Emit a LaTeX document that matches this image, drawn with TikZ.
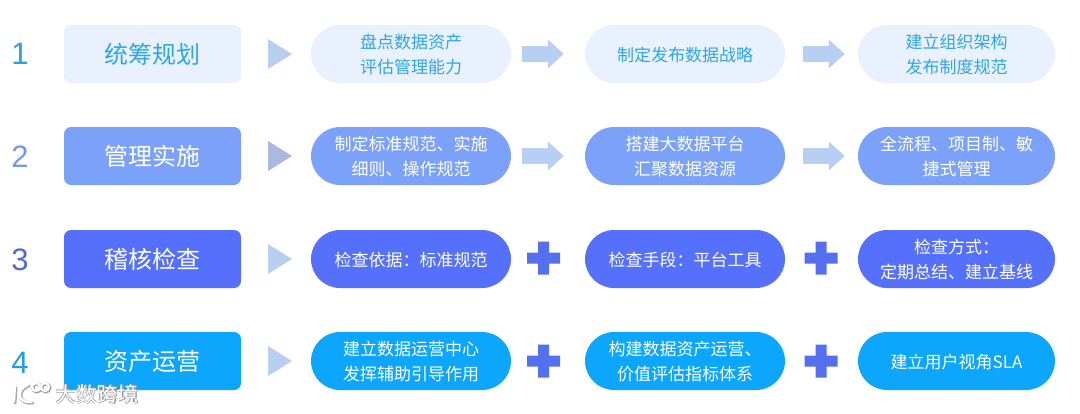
\documentclass[tikz,border=0pt]{standalone}
\usepackage{fontspec}
\setmainfont{Noto Sans CJK SC}
\newfontfamily\latinnum{Liberation Sans}
\usetikzlibrary{arrows.meta}
\definecolor{rowA}{HTML}{E8F1FD}
\definecolor{rowB}{HTML}{7BA2F8}
\definecolor{rowC}{HTML}{5570FB}
\definecolor{rowD}{HTML}{0DA6FD}
\definecolor{txtA}{HTML}{2FA6E2}
\definecolor{numA}{HTML}{2BA0DE}
\definecolor{numB}{HTML}{6F9BE6}
\definecolor{numC}{HTML}{4F68D6}
\definecolor{numD}{HTML}{1F9FE8}
\definecolor{triA}{HTML}{B9CFEF}
\definecolor{triB}{HTML}{ABB8DF}
\definecolor{arrowc}{HTML}{B6CFF2}
\definecolor{plusc}{HTML}{5570EE}
\newcommand{\ptext}[1]{\raisebox{-2pt}[\height][\depth]{\begin{tabular}{@{}c@{}}#1\end{tabular}}}
\tikzset{
  x=1pt,y=-1pt,
  titlebox/.style={draw=none,rounded corners=7pt,minimum width=177pt,minimum height=58pt,inner sep=0pt,text=white,font=\fontsize{24}{28}\selectfont},
  pill/.style={draw=none,rounded corners=29pt,minimum height=58pt,inner sep=0pt,text=white,font=\fontsize{17}{25}\selectfont},
  pillw/.style={pill,minimum width=200pt},
  pilln/.style={pill,minimum width=197pt},
  numlabel/.style={font=\latinnum\fontsize{31}{31}\selectfont,inner sep=0pt},
  blockarrow/.style={draw=arrowc,line width=16pt,-{Triangle[length=16pt,width=28pt]}},
  arrowfirst/.style={blockarrow,shorten <=11pt,shorten >=21pt},
  arrowsecond/.style={blockarrow,shorten <=18pt,shorten >=13pt},
  watermark/.style={font=\fontsize{21}{21}\selectfont,inner sep=0pt},
}
\newcommand{\tri}[2]{\fill[#2] (268,#1-15) -- (292,#1) -- (268,#1+15) -- cycle;}
\newcommand{\plusat}[2]{\fill[plusc] (#1-5.5,#2-16.5) rectangle (#1+5.5,#2+16.5) (#1-16.5,#2-5.5) rectangle (#1+16.5,#2+5.5);}
\begin{document}
\begin{tikzpicture}
\useasboundingbox (0,0) rectangle (1080,413);
\fill[white] (0,0) rectangle (1080,413);
% numbers
\node[numlabel,text=numA] (n1) at (20,54) {1};
\node[numlabel,text=numB] (n2) at (20,157) {2};
\node[numlabel,text=numC] (n3) at (20,260) {3};
\node[numlabel,text=numD] (n4) at (20,363) {4};
% titles
\node[titlebox,fill=rowA,text=txtA] (t1) at (152.5,54) {统筹规划};
\node[titlebox,fill=rowB] (t2) at (152.5,156) {管理实施};
\node[titlebox,fill=rowC] (t3) at (152.5,259) {稽核检查};
\node[titlebox,fill=rowD] (t4) at (152.5,361) {资产运营};
% row 1
\node[pillw,fill=rowA,text=txtA] (a1) at (411,54) {\ptext{盘点数据资产\\评估管理能力}};
\node[pillw,fill=rowA,text=txtA] (a2) at (685,54) {\ptext{制定发布数据战略}};
\node[pilln,fill=rowA,text=txtA] (a3) at (956.5,54) {\ptext{建立组织架构\\发布制度规范}};
% row 2
\node[pillw,fill=rowB] (b1) at (411,156) {\ptext{制定标准规范、实施\\细则、操作规范}};
\node[pillw,fill=rowB] (b2) at (685,156) {\ptext{搭建大数据平台\\汇聚数据资源}};
\node[pilln,fill=rowB] (b3) at (956.5,156) {\ptext{全流程、项目制、敏\\捷式管理}};
% row 3
\node[pillw,fill=rowC] (c1) at (411,259) {\ptext{检查依据：标准规范}};
\node[pillw,fill=rowC] (c2) at (685,259) {\ptext{检查手段：平台工具}};
\node[pilln,fill=rowC] (c3) at (956.5,259) {\ptext{检查方式：\\定期总结、建立基线}};
% row 4
\node[pillw,fill=rowD] (d1) at (411,361) {\ptext{建立数据运营中心\\发挥辅助引导作用}};
\node[pillw,fill=rowD] (d2) at (685,361) {\ptext{构建数据资产运营、\\价值评估指标体系}};
\node[pilln,fill=rowD] (d3) at (956.5,361) {\ptext{建立用户视角SLA}};
% triangles
\tri{54}{triA}
\tri{156}{triB}
\tri{259}{triA}
\tri{361}{triA}
% block arrows
\draw[arrowfirst] (a1) -- (a2);
\draw[arrowsecond] (a2) -- (a3);
\draw[arrowfirst] (b1) -- (b2);
\draw[arrowsecond] (b2) -- (b3);
% plus signs
\plusat{543.5}{258}
\plusat{821}{258}
\plusat{543.5}{361}
\plusat{821}{361}
% watermark
\begin{scope}[line cap=round]
\foreach \dx/\dy/\c/\w in {0.8/0.8/gray!70/3.4,0/0/white/2.2}{
  \draw[\c,line width=\w pt,shift={(\dx,\dy)}]
    (15,387) -- (14,402) (28,385) .. controls (17,388) and (16,404) .. (32,402)
    (36,387) circle (4) (45,387) circle (4);
}
\end{scope}
\node[watermark,text=gray!75,font=\fontsize{21}{21}\selectfont\bfseries] (w0) at (97.6,394.6) {大数跨境};
\node[watermark,text=white] (w1) at (97,394) {大数跨境};
\end{tikzpicture}
\end{document}
